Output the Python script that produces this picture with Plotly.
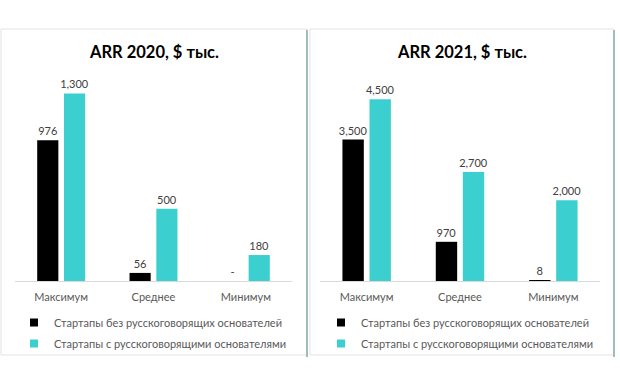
import plotly.graph_objects as go

W, H = 620, 375

categories = ["Максимум", "Среднее", "Минимум"]
series_names = ["Стартапы без русскоговорящих основателей",
                "Стартапы с русскоговорящими основателями"]
arr2020_without = [976, 56, 0]
arr2020_with = [1300, 500, 180]
arr2021_without = [3500, 970, 8]
arr2021_with = [4500, 2700, 2000]
titles = ["ARR 2020, $ тыс.", "ARR 2021, $ тыс."]
y_max = [1400, 5000]

COL_BLACK = "#000000"
COL_TEAL = "#3ccfcf"
FONT = "Lato"
LABEL_COL = "#404040"
AXIS_TEXT = "#595959"


def fmt(v):
    return "-" if v == 0 else f"{v:,}"


def px_x(p):
    return p / W


def px_y(p):
    return 1 - p / H


fig = go.Figure()

panels = [
    ("x", "y", arr2020_without, arr2020_with, "legend"),
    ("x2", "y2", arr2021_without, arr2021_with, "legend2"),
]
for xa, ya, s1, s2, lg in panels:
    for vals, col, name in [(s1, COL_BLACK, series_names[0]), (s2, COL_TEAL, series_names[1])]:
        fig.add_trace(go.Bar(
            x=categories, y=vals, name=name, marker=dict(color=col, line=dict(width=0)),
            text=[fmt(v) for v in vals], textposition="outside", constraintext="none",
            textfont=dict(family=FONT, size=11, color=LABEL_COL),
            cliponaxis=False, showlegend=False, xaxis=xa, yaxis=ya, hoverinfo="skip",
        ))
    for col, name in [(COL_BLACK, series_names[0]), (COL_TEAL, series_names[1])]:
        fig.add_trace(go.Scatter(
            x=[None], y=[None], mode="markers", name=name, legendgroup=name,
            marker=dict(symbol="square", size=8, color=col),
            showlegend=True, legend=lg, xaxis=xa, yaxis=ya,
        ))

plot_top, plot_bot = 79, 281
ydom = [px_y(plot_bot), px_y(plot_top)]
xdoms = [[px_x(15), px_x(292)], [px_x(320), px_x(600)]]

axis_common = dict(showgrid=False, zeroline=False, fixedrange=True)
xaxis_common = dict(type="category", showline=True, linecolor="#d9d9d9", linewidth=1,
                    ticks="", ticklabelstandoff=6,
                    tickfont=dict(family=FONT, size=11, color=AXIS_TEXT), **axis_common)
legend_common = dict(xanchor="center", yanchor="top", orientation="v", tracegroupgap=2,
                     bgcolor="rgba(0,0,0,0)", itemwidth=30,
                     font=dict(family=FONT, size=11, color=AXIS_TEXT))
fig.update_layout(
    xaxis=dict(domain=xdoms[0], anchor="y", **xaxis_common),
    yaxis=dict(domain=ydom, anchor="x", range=[0, y_max[0]], visible=False, **axis_common),
    xaxis2=dict(domain=xdoms[1], anchor="y2", **xaxis_common),
    yaxis2=dict(domain=ydom, anchor="x2", range=[0, y_max[1]], visible=False, **axis_common),
    barmode="group", bargap=0.42, bargroupgap=0.21,
    width=W, height=H, margin=dict(l=0, r=0, t=0, b=0),
    paper_bgcolor="white", plot_bgcolor="white",
    font=dict(family=FONT, size=11, color=AXIS_TEXT),
    legend=dict(x=px_x(153), y=px_y(308), **legend_common),
    legend2=dict(x=px_x(460), y=px_y(308), **legend_common),
)

for cx, t in zip([154, 462], titles):
    fig.add_annotation(x=px_x(cx), y=px_y(52), xref="paper", yref="paper",
                       text=f"<b>{t}</b>", showarrow=False,
                       font=dict(family=FONT, size=16.5, color="#000000"),
                       xanchor="center", yanchor="middle")

# panel frames
for x0, x1 in [(1, 307), (310, 614)]:
    fig.add_shape(type="rect", xref="paper", yref="paper",
                  x0=px_x(x0), x1=px_x(x1), y0=px_y(355), y1=px_y(29),
                  line=dict(color="#e3e3e3", width=1), fillcolor="rgba(0,0,0,0)", layer="below")
    fig.add_shape(type="line", xref="paper", yref="paper",
                  x0=px_x(x1), x1=px_x(x1), y0=px_y(357), y1=px_y(30),
                  line=dict(color="#9fbcc0", width=2))

fig.write_html("out.html", config={"displayModeBar": False},
               post_script="document.body.style.margin='0';document.body.style.overflow='hidden';")
